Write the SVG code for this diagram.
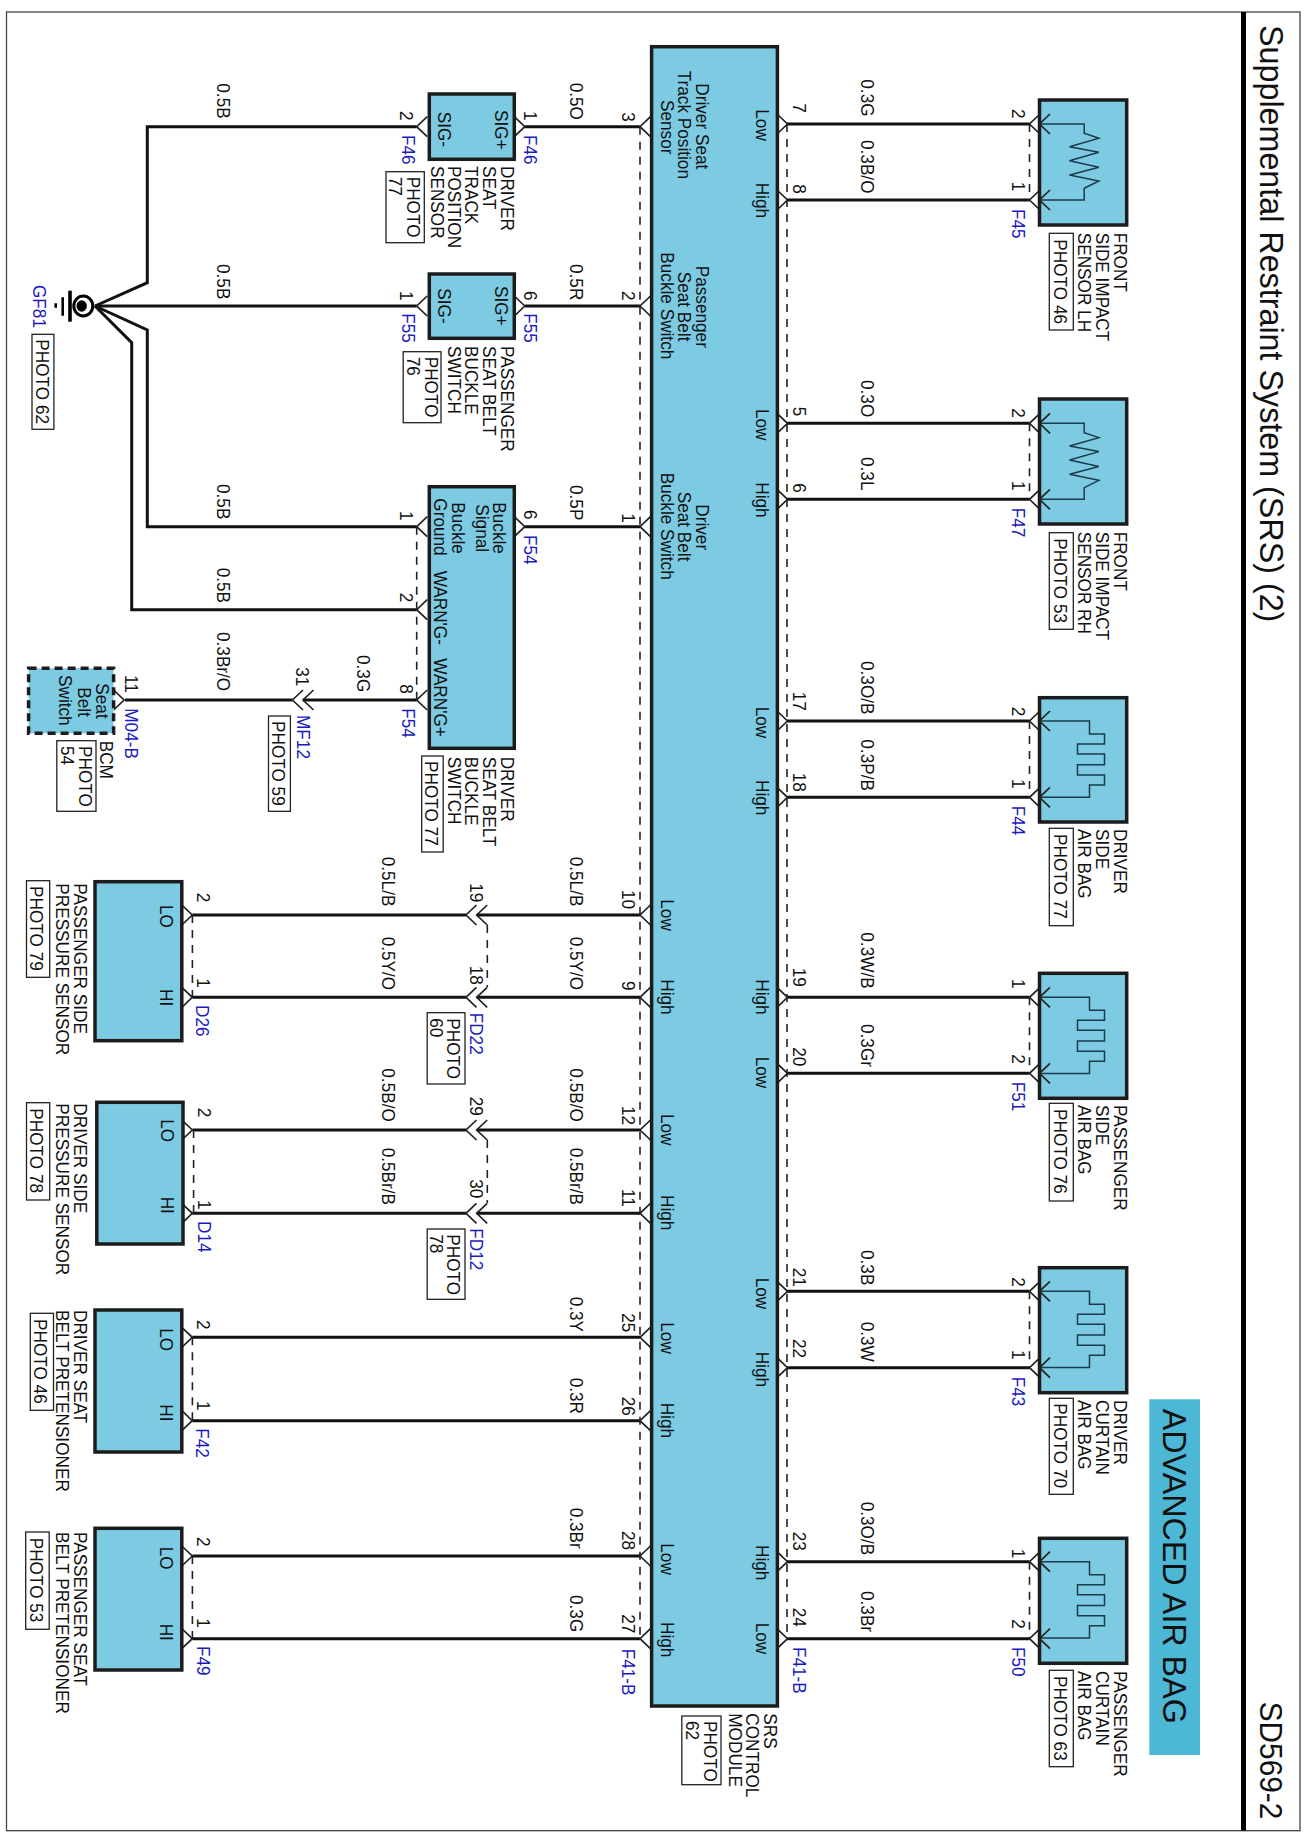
<svg xmlns="http://www.w3.org/2000/svg" width="1305" height="1836" viewBox="0 0 1305 1836">
<style>
text{font-family:"Liberation Sans",Arial,sans-serif;font-size:17.2px;fill:#111}
.b{fill:#1a1ac0}
.box{fill:#7dcbe3;stroke:#1c1c1c;stroke-width:3.5}
.pb{fill:#fff;stroke:#222;stroke-width:1.3}
.w{fill:none;stroke:#111;stroke-width:3}
.d{fill:none;stroke:#222;stroke-width:1.6;stroke-dasharray:8 7}
.c{fill:none;stroke:#222;stroke-width:1.7}
.s{fill:none;stroke:#1d3a4a;stroke-width:1.5}
</style>
<defs>
<path id="cl" class="c" d="M10.500,-10L0,0L10.500,10"/>
<path id="cr" class="c" d="M0,-10L10.500,0L0,10"/>
<path id="res" class="s" d="M0,0H44.700V9.300L59.400,14.300L30,22.700L59.400,28.300L30,36.700L59.400,43.300L30,51L59.400,57L44.700,64.300V76H0"/>
<path id="air" class="s" d="M0,0H50V13H65V23H38V33H65V43.700H38V54H65V64H50V76.300H0"/>
</defs>
<rect x="6.500" y="12" width="1293.500" height="1818.700" fill="#fff" stroke="#444" stroke-width="1.300"/>
<rect x="1241" y="12" width="5" height="1818.700" fill="#000"/>
<g id="title">
<text transform="matrix(0,1,-1.03,0,1260,25)" style="font-size:32.3px">Supplemental Restraint System (SRS) (2)</text>
<text transform="matrix(0,1,-1.03,0,1260,1701.700)" style="font-size:29.800px">SD569-2</text>
</g>
<g id="banner">
<rect x="1149.300" y="1399.300" width="50.700" height="355.700" fill="#4db8d6"/>
<text transform="matrix(0,1,-1.03,0,1162.700,1408.700)" style="font-size:32.300px">ADVANCED AIR BAG</text>
</g>
<g id="connectors">
<path class="w" d="M416.700,126.700H147.300V282.700L95,306"/>
<path class="w" d="M95,306H416.700"/>
<path class="w" d="M95,306L147.300,330V526.700H416.700"/>
<path class="w" d="M95,306L131.700,342.700V609.700H416.700"/>
<path class="w" d="M525,126.700H640M525,306H640M525,526.700H640"/>
<path class="w" d="M125,700H292.500M303,700H416.700"/>
<path class="w" d="M192.400,915H466M476.700,915H640M192.400,997.300H466M476.700,997.300H640M192.400,1130H466M476.700,1130H640M192.400,1213.300H466M476.700,1213.300H640M192.400,1337.300H640M192.400,1420.700H640M192.400,1556H640M192.400,1638.700H640"/>
<path class="w" d="M787,124H1029.500M787,200H1029.500M787,423.300H1029.500M787,499.300H1029.500M787,721H1029.500M787,797.300H1029.500M787,997.300H1029.500M787,1073.300H1029.500M787,1291.300H1029.500M787,1367.700H1029.500M787,1561.700H1029.500M787,1638.700H1029.500"/>
<path class="d" d="M640,126.700V1638.700M787,124V1638.700M416.700,526.700V700M192.400,915V997.300M487.300,925V987M193.600,1130V1213.300M487.300,1140V1203M192.400,1337.300V1420.700M192.400,1556V1638.700M1029.500,124V200M1029.500,423.300V499.300M1029.500,721V797.300M1029.500,997.300V1073.300M1029.500,1291.300V1367.700M1029.500,1561.700V1638.700"/>
<use href="#cl" x="640" y="126.700"/><use href="#cl" x="640" y="306"/><use href="#cl" x="640" y="526.700"/><use href="#cl" x="640" y="915"/><use href="#cl" x="640" y="997.300"/><use href="#cl" x="640" y="1130"/><use href="#cl" x="640" y="1213.300"/><use href="#cl" x="640" y="1337.300"/><use href="#cl" x="640" y="1420.700"/><use href="#cl" x="640" y="1556"/><use href="#cl" x="640" y="1638.700"/>
<use href="#cr" x="777" y="124"/><use href="#cr" x="777" y="200"/><use href="#cr" x="777" y="423.300"/><use href="#cr" x="777" y="499.300"/><use href="#cr" x="777" y="721"/><use href="#cr" x="777" y="797.300"/><use href="#cr" x="777" y="997.300"/><use href="#cr" x="777" y="1073.300"/><use href="#cr" x="777" y="1291.300"/><use href="#cr" x="777" y="1367.700"/><use href="#cr" x="777" y="1561.700"/><use href="#cr" x="777" y="1638.700"/>
<use href="#cl" x="1029.500" y="124"/><use href="#cl" x="1029.500" y="200"/><use href="#cl" x="1029.500" y="423.300"/><use href="#cl" x="1029.500" y="499.300"/><use href="#cl" x="1029.500" y="721"/><use href="#cl" x="1029.500" y="797.300"/><use href="#cl" x="1029.500" y="997.300"/><use href="#cl" x="1029.500" y="1073.300"/><use href="#cl" x="1029.500" y="1291.300"/><use href="#cl" x="1029.500" y="1367.700"/><use href="#cl" x="1029.500" y="1561.700"/><use href="#cl" x="1029.500" y="1638.700"/>
<use href="#cl" x="416.700" y="126.700"/><use href="#cl" x="416.700" y="306"/><use href="#cl" x="416.700" y="526.700"/><use href="#cl" x="416.700" y="609.700"/><use href="#cl" x="416.700" y="700"/>
<use href="#cr" x="514.300" y="126.700"/><use href="#cr" x="514.300" y="306"/><use href="#cr" x="514.300" y="526.700"/>
<use href="#cl" x="292.500" y="700"/><use href="#cl" x="303" y="700"/><use href="#cr" x="113.600" y="700"/>
<use href="#cl" x="466" y="915"/><use href="#cl" x="476.700" y="915"/><use href="#cl" x="466" y="997.300"/><use href="#cl" x="476.700" y="997.300"/><use href="#cl" x="466" y="1130"/><use href="#cl" x="476.700" y="1130"/><use href="#cl" x="466" y="1213.300"/><use href="#cl" x="476.700" y="1213.300"/>
<use href="#cr" x="181.800" y="915"/><use href="#cr" x="181.800" y="997.300"/><use href="#cr" x="181.800" y="1130"/><use href="#cr" x="181.800" y="1213.300"/><use href="#cr" x="181.800" y="1337.300"/><use href="#cr" x="181.800" y="1420.700"/><use href="#cr" x="181.800" y="1556"/><use href="#cr" x="181.800" y="1638.700"/>
</g>
<g id="wire-labels">
<text transform="matrix(0,1,-1.08,0,216.800,83.300)">0.5B</text>
<text transform="matrix(0,1,-1.08,0,570.300,82.700)">0.5O</text>
<text transform="matrix(0,1,-1.08,0,216.800,264)">0.5B</text>
<text transform="matrix(0,1,-1.08,0,570.300,264)">0.5R</text>
<text transform="matrix(0,1,-1.08,0,216.800,484)">0.5B</text>
<text transform="matrix(0,1,-1.08,0,570.300,485)">0.5P</text>
<text transform="matrix(0,1,-1.08,0,216.800,567.700)">0.5B</text>
<text transform="matrix(0,1,-1.08,0,216.800,632)">0.3Br/O</text>
<text transform="matrix(0,1,-1.08,0,357,655)">0.3G</text>
<text transform="matrix(0,1,-1.08,0,381.700,856.700)">0.5L/B</text>
<text transform="matrix(0,1,-1.08,0,570.300,856.700)">0.5L/B</text>
<text transform="matrix(0,1,-1.08,0,381.700,936.700)">0.5Y/O</text>
<text transform="matrix(0,1,-1.08,0,570.300,936.700)">0.5Y/O</text>
<text transform="matrix(0,1,-1.08,0,381.700,1068.300)">0.5B/O</text>
<text transform="matrix(0,1,-1.08,0,570.300,1068.300)">0.5B/O</text>
<text transform="matrix(0,1,-1.08,0,381.700,1147.700)">0.5Br/B</text>
<text transform="matrix(0,1,-1.08,0,570.300,1147.700)">0.5Br/B</text>
<text transform="matrix(0,1,-1.08,0,570.300,1296.700)">0.3Y</text>
<text transform="matrix(0,1,-1.08,0,570.300,1377.700)">0.3R</text>
<text transform="matrix(0,1,-1.08,0,570.300,1507.700)">0.3Br</text>
<text transform="matrix(0,1,-1.08,0,570.300,1595)">0.3G</text>
<text transform="matrix(0,1,-1.08,0,861,79.300)">0.3G</text>
<text transform="matrix(0,1,-1.08,0,861,140)">0.3B/O</text>
<text transform="matrix(0,1,-1.08,0,861,380)">0.3O</text>
<text transform="matrix(0,1,-1.08,0,861,457)">0.3L</text>
<text transform="matrix(0,1,-1.08,0,861,661)">0.3O/B</text>
<text transform="matrix(0,1,-1.08,0,861,739.300)">0.3P/B</text>
<text transform="matrix(0,1,-1.08,0,861,932.300)">0.3W/B</text>
<text transform="matrix(0,1,-1.08,0,861,1024)">0.3Gr</text>
<text transform="matrix(0,1,-1.08,0,861,1250)">0.3B</text>
<text transform="matrix(0,1,-1.08,0,861,1321.700)">0.3W</text>
<text transform="matrix(0,1,-1.08,0,861,1501.700)">0.3O/B</text>
<text transform="matrix(0,1,-1.08,0,861,1591)">0.3Br</text>
</g>
<g id="srs-module">
<rect class="box" x="651.600" y="46.700" width="125.800" height="1659.300"/>
<text transform="matrix(0,1,-1.08,0,696.300,83.300)">Driver Seat</text>
<text transform="matrix(0,1,-1.08,0,678.400,70.700)">Track Position</text>
<text transform="matrix(0,1,-1.08,0,661.300,100)">Sensor</text>
<text transform="matrix(0,1,-1.08,0,696.300,265.700)">Passenger</text>
<text transform="matrix(0,1,-1.08,0,678.400,271.700)">Seat Belt</text>
<text transform="matrix(0,1,-1.08,0,661.300,252.300)">Buckle Switch</text>
<text transform="matrix(0,1,-1.08,0,696.300,504.300)">Driver</text>
<text transform="matrix(0,1,-1.08,0,678.400,491.700)">Seat Belt</text>
<text transform="matrix(0,1,-1.08,0,661.300,472.700)">Buckle Switch</text>
<text transform="matrix(0,1,-1.08,0,661.300,899.300)">Low</text>
<text transform="matrix(0,1,-1.08,0,661.300,979.300)">High</text>
<text transform="matrix(0,1,-1.08,0,661.300,1114)">Low</text>
<text transform="matrix(0,1,-1.08,0,661.300,1195)">High</text>
<text transform="matrix(0,1,-1.08,0,661.300,1322.300)">Low</text>
<text transform="matrix(0,1,-1.08,0,661.300,1402.700)">High</text>
<text transform="matrix(0,1,-1.08,0,661.300,1543.300)">Low</text>
<text transform="matrix(0,1,-1.08,0,661.300,1622)">High</text>
<text transform="matrix(0,1,-1.08,0,756,109.300)">Low</text>
<text transform="matrix(0,1,-1.08,0,756,182.700)">High</text>
<text transform="matrix(0,1,-1.08,0,756,409)">Low</text>
<text transform="matrix(0,1,-1.08,0,756,482.300)">High</text>
<text transform="matrix(0,1,-1.08,0,756,706.700)">Low</text>
<text transform="matrix(0,1,-1.08,0,756,780)">High</text>
<text transform="matrix(0,1,-1.08,0,756,979.300)">High</text>
<text transform="matrix(0,1,-1.08,0,756,1056.700)">Low</text>
<text transform="matrix(0,1,-1.08,0,756,1277.700)">Low</text>
<text transform="matrix(0,1,-1.08,0,756,1351.700)">High</text>
<text transform="matrix(0,1,-1.08,0,756,1545)">High</text>
<text transform="matrix(0,1,-1.08,0,756,1622.700)">Low</text>
<text transform="matrix(0,1,-1.08,0,622,112.300)">3</text>
<text transform="matrix(0,1,-1.08,0,622,291)">2</text>
<text transform="matrix(0,1,-1.08,0,622,513.300)">1</text>
<text transform="matrix(0,1,-1.08,0,622,890)">10</text>
<text transform="matrix(0,1,-1.08,0,622,981)">9</text>
<text transform="matrix(0,1,-1.08,0,622,1106)">12</text>
<text transform="matrix(0,1,-1.08,0,622,1189)">11</text>
<text transform="matrix(0,1,-1.08,0,622,1313.300)">25</text>
<text transform="matrix(0,1,-1.08,0,622,1396.700)">26</text>
<text transform="matrix(0,1,-1.08,0,622,1531)">28</text>
<text transform="matrix(0,1,-1.08,0,622,1614.300)">27</text>
<text class="b" transform="matrix(0,1,-1.08,0,622,1648.700)">F41-B</text>
<text transform="matrix(0,1,-1.08,0,792.700,103.300)">7</text>
<text transform="matrix(0,1,-1.08,0,792.700,184.300)">8</text>
<text transform="matrix(0,1,-1.08,0,792.700,406.700)">5</text>
<text transform="matrix(0,1,-1.08,0,792.700,483.300)">6</text>
<text transform="matrix(0,1,-1.08,0,792.700,691.700)">17</text>
<text transform="matrix(0,1,-1.08,0,792.700,772.700)">18</text>
<text transform="matrix(0,1,-1.08,0,792.700,967.700)">19</text>
<text transform="matrix(0,1,-1.08,0,792.700,1047.300)">20</text>
<text transform="matrix(0,1,-1.08,0,792.700,1267.700)">21</text>
<text transform="matrix(0,1,-1.08,0,792.700,1339)">22</text>
<text transform="matrix(0,1,-1.08,0,792.700,1531.700)">23</text>
<text transform="matrix(0,1,-1.08,0,792.700,1607.700)">24</text>
<text class="b" transform="matrix(0,1,-1.08,0,792.700,1647)">F41-B</text>
<text transform="matrix(0,1,-1.08,0,763.700,1713.300)">SRS</text>
<text transform="matrix(0,1,-1.08,0,745.800,1713.300)">CONTROL</text>
<text transform="matrix(0,1,-1.08,0,728.700,1713.300)">MODULE</text>
<rect class="pb" x="681.800" y="1716" width="39.200" height="68.700"/>
<text transform="matrix(0,1,-1.08,0,704,1721)">PHOTO</text>
<text transform="matrix(0,1,-1.08,0,685.600,1721)">62</text>
</g>
<g id="ground-gf81">
<ellipse cx="83.300" cy="306" rx="9.500" ry="10" fill="#fff" stroke="#000" stroke-width="3"/>
<ellipse cx="81.700" cy="306" rx="5.200" ry="5.800" fill="#000"/>
<path d="M70,290.700V321.700" stroke="#000" stroke-width="3.600" fill="none"/>
<path d="M62.700,297.300V315.700M55.700,303.300V307.700" stroke="#000" stroke-width="2.600" fill="none"/>
<text class="b" transform="matrix(0,1,-1.08,0,33.300,285)">GF81</text>
<rect class="pb" x="32" y="334.300" width="21.900" height="95"/>
<text transform="matrix(0,1,-1.08,0,35.800,339.300)">PHOTO 62</text>
</g>
<g id="f46">
<rect class="box" x="429.300" y="94" width="85" height="65.300"/>
<text transform="matrix(0,1,-1.08,0,494.600,110)">SIG+</text>
<text transform="matrix(0,1,-1.08,0,437.700,111.700)">SIG-</text>
<text transform="matrix(0,1,-1.08,0,400,111)">2</text>
<text transform="matrix(0,1,-1.08,0,524,111)">1</text>
<text class="b" transform="matrix(0,1,-1.08,0,402,135)">F46</text>
<text class="b" transform="matrix(0,1,-1.08,0,524,135)">F46</text>
<text transform="matrix(0,1,-1.08,0,501,166)">DRIVER</text>
<text transform="matrix(0,1,-1.08,0,483.200,166)">SEAT</text>
<text transform="matrix(0,1,-1.08,0,465,166)">TRACK</text>
<text transform="matrix(0,1,-1.08,0,448.300,166)">POSITION</text>
<text transform="matrix(0,1,-1.08,0,430.600,166)">SENSOR</text>
<rect class="pb" x="386" y="171.700" width="38.300" height="71"/>
<text transform="matrix(0,1,-1.08,0,407.400,176.700)">PHOTO</text>
<text transform="matrix(0,1,-1.08,0,389.300,176.700)">77</text>
</g>
<g id="f55">
<rect class="box" x="429.300" y="274" width="85" height="64.300"/>
<text transform="matrix(0,1,-1.08,0,494.600,286)">SIG+</text>
<text transform="matrix(0,1,-1.08,0,437.700,288.300)">SIG-</text>
<text transform="matrix(0,1,-1.08,0,400,291)">1</text>
<text transform="matrix(0,1,-1.08,0,524,291)">6</text>
<text class="b" transform="matrix(0,1,-1.08,0,402,313.300)">F55</text>
<text class="b" transform="matrix(0,1,-1.08,0,524,313.300)">F55</text>
<text transform="matrix(0,1,-1.08,0,501,346)">PASSENGER</text>
<text transform="matrix(0,1,-1.08,0,483.200,346)">SEAT BELT</text>
<text transform="matrix(0,1,-1.08,0,465,346)">BUCKLE</text>
<text transform="matrix(0,1,-1.08,0,448.300,346)">SWITCH</text>
<rect class="pb" x="403.200" y="351.700" width="37.800" height="71"/>
<text transform="matrix(0,1,-1.08,0,425,356.700)">PHOTO</text>
<text transform="matrix(0,1,-1.08,0,407.400,356.700)">76</text>
</g>
<g id="f54">
<rect class="box" x="429.300" y="486.700" width="85" height="261.600"/>
<text transform="matrix(0,1,-1.08,0,493.300,502.300)">Buckle</text>
<text transform="matrix(0,1,-1.08,0,475.600,504.300)">Signal</text>
<text transform="matrix(0,1,-1.08,0,451.600,502.300)">Buckle</text>
<text transform="matrix(0,1,-1.08,0,433.500,498.300)">Ground</text>
<text transform="matrix(0,1,-1.08,0,433.500,570.700)">WARN'G-</text>
<text transform="matrix(0,1,-1.08,0,433.500,658.300)">WARN'G+</text>
<text transform="matrix(0,1,-1.08,0,524,510)">6</text>
<text class="b" transform="matrix(0,1,-1.08,0,524,535)">F54</text>
<text transform="matrix(0,1,-1.08,0,400,511)">1</text>
<text transform="matrix(0,1,-1.08,0,400,592.700)">2</text>
<text transform="matrix(0,1,-1.08,0,400,684.300)">8</text>
<text class="b" transform="matrix(0,1,-1.08,0,402,708.300)">F54</text>
<text transform="matrix(0,1,-1.08,0,501,756.700)">DRIVER</text>
<text transform="matrix(0,1,-1.08,0,483.200,756.700)">SEAT BELT</text>
<text transform="matrix(0,1,-1.08,0,465,756.700)">BUCKLE</text>
<text transform="matrix(0,1,-1.08,0,448.300,756.700)">SWITCH</text>
<rect class="pb" x="421.700" y="756" width="21.500" height="96"/>
<text transform="matrix(0,1,-1.08,0,425,761)">PHOTO 77</text>
</g>
<g id="mf12">
<text transform="matrix(0,1,-1.08,0,296,667.300)">31</text>
<text class="b" transform="matrix(0,1,-1.08,0,296.700,715)">MF12</text>
<rect class="pb" x="268.500" y="716" width="21.900" height="95.300"/>
<text transform="matrix(0,1,-1.08,0,271.500,721)">PHOTO 59</text>
</g>
<g id="bcm">
<rect x="28.600" y="668.300" width="85" height="65" fill="#7dcbe3" stroke="#1c1c1c" stroke-width="3.500" stroke-dasharray="8 5"/>
<text transform="matrix(0,1,-1.08,0,96,683.300)">Seat</text>
<text transform="matrix(0,1,-1.08,0,77.900,687.300)">Belt</text>
<text transform="matrix(0,1,-1.08,0,59,675)">Switch</text>
<text transform="matrix(0,1,-1.08,0,125.400,675)">11</text>
<text class="b" transform="matrix(0,1,-1.08,0,125.400,708.300)">M04-B</text>
<text transform="matrix(0,1,-1.08,0,100.200,740.700)">BCM</text>
<rect class="pb" x="56.800" y="740.700" width="39.200" height="70.600"/>
<text transform="matrix(0,1,-1.08,0,78.700,746)">PHOTO</text>
<text transform="matrix(0,1,-1.08,0,61,746)">54</text>
</g>
<g id="fd22">
<text transform="matrix(0,1,-1.08,0,470,883.300)">19</text>
<text transform="matrix(0,1,-1.08,0,470,965.700)">18</text>
<text class="b" transform="matrix(0,1,-1.08,0,470,1012.700)">FD22</text>
<rect class="pb" x="427.200" y="1012.700" width="37.800" height="71.300"/>
<text transform="matrix(0,1,-1.08,0,447,1018.300)">PHOTO</text>
<text transform="matrix(0,1,-1.08,0,430,1018.300)">60</text>
</g>
<g id="fd12">
<text transform="matrix(0,1,-1.08,0,470,1096.700)">29</text>
<text transform="matrix(0,1,-1.08,0,470,1179.300)">30</text>
<text class="b" transform="matrix(0,1,-1.08,0,470,1228.300)">FD12</text>
<rect class="pb" x="427.200" y="1229" width="37.800" height="70.300"/>
<text transform="matrix(0,1,-1.08,0,447,1234.300)">PHOTO</text>
<text transform="matrix(0,1,-1.08,0,430,1234.300)">78</text>
</g>
<g id="d26">
<rect class="box" x="95" y="881.700" width="86.800" height="159"/>
<text transform="matrix(0,1,-1.08,0,160,905)">LO</text>
<text transform="matrix(0,1,-1.08,0,160,989)">HI</text>
<text transform="matrix(0,1,-1.08,0,197,892.700)">2</text>
<text transform="matrix(0,1,-1.08,0,197,978.300)">1</text>
<text class="b" transform="matrix(0,1,-1.08,0,195.700,1005)">D26</text>
<text transform="matrix(0,1,-1.08,0,73.700,883.300)">PASSENGER SIDE</text>
<text transform="matrix(0,1,-1.08,0,56,883.300)">PRESSURE SENSOR</text>
<rect class="pb" x="26.500" y="880.700" width="23.200" height="96.600"/>
<text transform="matrix(0,1,-1.08,0,30.300,886)">PHOTO 79</text>
</g>
<g id="d14">
<rect class="box" x="96.800" y="1102.300" width="86.200" height="141.700"/>
<text transform="matrix(0,1,-1.08,0,161,1119.300)">LO</text>
<text transform="matrix(0,1,-1.08,0,161,1196.700)">HI</text>
<text transform="matrix(0,1,-1.08,0,197.800,1107.700)">2</text>
<text transform="matrix(0,1,-1.08,0,197.800,1200)">1</text>
<text class="b" transform="matrix(0,1,-1.08,0,197.800,1221)">D14</text>
<text transform="matrix(0,1,-1.08,0,73.700,1103.300)">DRIVER SIDE</text>
<text transform="matrix(0,1,-1.08,0,56,1103.300)">PRESSURE SENSOR</text>
<rect class="pb" x="26.500" y="1102.700" width="23.200" height="97.300"/>
<text transform="matrix(0,1,-1.08,0,30.300,1108.300)">PHOTO 78</text>
</g>
<g id="f42">
<rect class="box" x="95" y="1310" width="86.800" height="142"/>
<text transform="matrix(0,1,-1.08,0,160,1328.300)">LO</text>
<text transform="matrix(0,1,-1.08,0,160,1404.300)">HI</text>
<text transform="matrix(0,1,-1.08,0,197,1320)">2</text>
<text transform="matrix(0,1,-1.08,0,197,1401)">1</text>
<text class="b" transform="matrix(0,1,-1.08,0,195.700,1428.300)">F42</text>
<text transform="matrix(0,1,-1.08,0,73.700,1310)">DRIVER SEAT</text>
<text transform="matrix(0,1,-1.08,0,56,1310)">BELT PRETENSIONER</text>
<rect class="pb" x="30.300" y="1313.300" width="23.200" height="97"/>
<text transform="matrix(0,1,-1.08,0,33.700,1319)">PHOTO 46</text>
</g>
<g id="f49">
<rect class="box" x="95" y="1528.300" width="86.800" height="141.700"/>
<text transform="matrix(0,1,-1.08,0,160,1546.700)">LO</text>
<text transform="matrix(0,1,-1.08,0,160,1623.700)">HI</text>
<text transform="matrix(0,1,-1.08,0,197,1537)">2</text>
<text transform="matrix(0,1,-1.08,0,197,1618.300)">1</text>
<text class="b" transform="matrix(0,1,-1.08,0,197,1646)">F49</text>
<text transform="matrix(0,1,-1.08,0,73.700,1532)">PASSENGER SEAT</text>
<text transform="matrix(0,1,-1.08,0,56,1532)">BELT PRETENSIONER</text>
<rect class="pb" x="25.700" y="1532" width="23.500" height="97.300"/>
<text transform="matrix(0,1,-1.08,0,29.500,1537.700)">PHOTO 53</text>
</g>
<g id="f45">
<rect class="box" x="1039.500" y="100" width="87.200" height="125"/>
<use href="#res" x="1039.500" y="124"/><use href="#cl" x="1039.500" y="124"/><use href="#cl" x="1039.500" y="200"/>
<text transform="matrix(0,1,-1.08,0,1011.700,109)">2</text>
<text transform="matrix(0,1,-1.08,0,1011.700,181.700)">1</text>
<text class="b" transform="matrix(0,1,-1.08,0,1011.700,209)">F45</text>
<text transform="matrix(0,1,-1.08,0,1113.500,232.700)">FRONT</text>
<text transform="matrix(0,1,-1.08,0,1096,232.700)">SIDE IMPACT</text>
<text transform="matrix(0,1,-1.08,0,1078.300,232.700)">SENSOR LH</text>
<rect class="pb" x="1049.300" y="233.300" width="24" height="96.700"/>
<text transform="matrix(0,1,-1.08,0,1053.500,239.300)">PHOTO 46</text>
</g>
<g id="f47">
<rect class="box" x="1039.500" y="399" width="87.200" height="125"/>
<use href="#res" x="1039.500" y="423.300"/><use href="#cl" x="1039.500" y="423.300"/><use href="#cl" x="1039.500" y="499.300"/>
<text transform="matrix(0,1,-1.08,0,1011.700,408.300)">2</text>
<text transform="matrix(0,1,-1.08,0,1011.700,481)">1</text>
<text class="b" transform="matrix(0,1,-1.08,0,1011.700,507.700)">F47</text>
<text transform="matrix(0,1,-1.08,0,1113.500,531.700)">FRONT</text>
<text transform="matrix(0,1,-1.08,0,1096,531.700)">SIDE IMPACT</text>
<text transform="matrix(0,1,-1.08,0,1078.300,531.700)">SENSOR RH</text>
<rect class="pb" x="1049.300" y="532.700" width="24" height="96.600"/>
<text transform="matrix(0,1,-1.08,0,1053.500,538.300)">PHOTO 53</text>
</g>
<g id="f44">
<rect class="box" x="1039.500" y="697.700" width="87.200" height="124.300"/>
<use href="#air" x="1039.500" y="721"/><use href="#cl" x="1039.500" y="721"/><use href="#cl" x="1039.500" y="797.300"/>
<text transform="matrix(0,1,-1.08,0,1011.700,706.700)">2</text>
<text transform="matrix(0,1,-1.08,0,1011.700,779)">1</text>
<text class="b" transform="matrix(0,1,-1.08,0,1011.700,805.700)">F44</text>
<text transform="matrix(0,1,-1.08,0,1113.500,829)">DRIVER</text>
<text transform="matrix(0,1,-1.08,0,1096,829)">SIDE</text>
<text transform="matrix(0,1,-1.08,0,1078.300,829)">AIR BAG</text>
<rect class="pb" x="1049.300" y="828.300" width="24" height="97.400"/>
<text transform="matrix(0,1,-1.08,0,1053.500,834)">PHOTO 77</text>
</g>
<g id="f51">
<rect class="box" x="1039.500" y="973.300" width="87.200" height="125"/>
<use href="#air" x="1039.500" y="997.300"/><use href="#cl" x="1039.500" y="997.300"/><use href="#cl" x="1039.500" y="1073.300"/>
<text transform="matrix(0,1,-1.08,0,1011.700,979)">1</text>
<text transform="matrix(0,1,-1.08,0,1011.700,1054.300)">2</text>
<text class="b" transform="matrix(0,1,-1.08,0,1011.700,1081.700)">F51</text>
<text transform="matrix(0,1,-1.08,0,1113.500,1105)">PASSENGER</text>
<text transform="matrix(0,1,-1.08,0,1096,1105)">SIDE</text>
<text transform="matrix(0,1,-1.08,0,1078.300,1105)">AIR BAG</text>
<rect class="pb" x="1049.300" y="1103.300" width="24" height="97.700"/>
<text transform="matrix(0,1,-1.08,0,1053.500,1109)">PHOTO 76</text>
</g>
<g id="f43">
<rect class="box" x="1039.500" y="1267.700" width="87.200" height="125"/>
<use href="#air" x="1039.500" y="1291.300"/><use href="#cl" x="1039.500" y="1291.300"/><use href="#cl" x="1039.500" y="1367.700"/>
<text transform="matrix(0,1,-1.08,0,1011.700,1277.300)">2</text>
<text transform="matrix(0,1,-1.08,0,1011.700,1350)">1</text>
<text class="b" transform="matrix(0,1,-1.08,0,1011.700,1376.700)">F43</text>
<text transform="matrix(0,1,-1.08,0,1113.500,1400)">DRIVER</text>
<text transform="matrix(0,1,-1.08,0,1096,1400)">CURTAIN</text>
<text transform="matrix(0,1,-1.08,0,1078.300,1400)">AIR BAG</text>
<rect class="pb" x="1049.300" y="1398.300" width="24" height="96"/>
<text transform="matrix(0,1,-1.08,0,1053.500,1403.300)">PHOTO 70</text>
</g>
<g id="f50">
<rect class="box" x="1039.500" y="1538.300" width="87.200" height="125"/>
<use href="#air" x="1039.500" y="1561.700"/><use href="#cl" x="1039.500" y="1561.700"/><use href="#cl" x="1039.500" y="1638.700"/>
<text transform="matrix(0,1,-1.08,0,1011.700,1548.700)">1</text>
<text transform="matrix(0,1,-1.08,0,1011.700,1619.300)">2</text>
<text class="b" transform="matrix(0,1,-1.08,0,1011.700,1647)">F50</text>
<text transform="matrix(0,1,-1.08,0,1113.500,1671)">PASSENGER</text>
<text transform="matrix(0,1,-1.08,0,1096,1671)">CURTAIN</text>
<text transform="matrix(0,1,-1.08,0,1078.300,1671)">AIR BAG</text>
<rect class="pb" x="1049.300" y="1670.300" width="24" height="96.400"/>
<text transform="matrix(0,1,-1.08,0,1053.500,1676)">PHOTO 63</text>
</g>
</svg>
